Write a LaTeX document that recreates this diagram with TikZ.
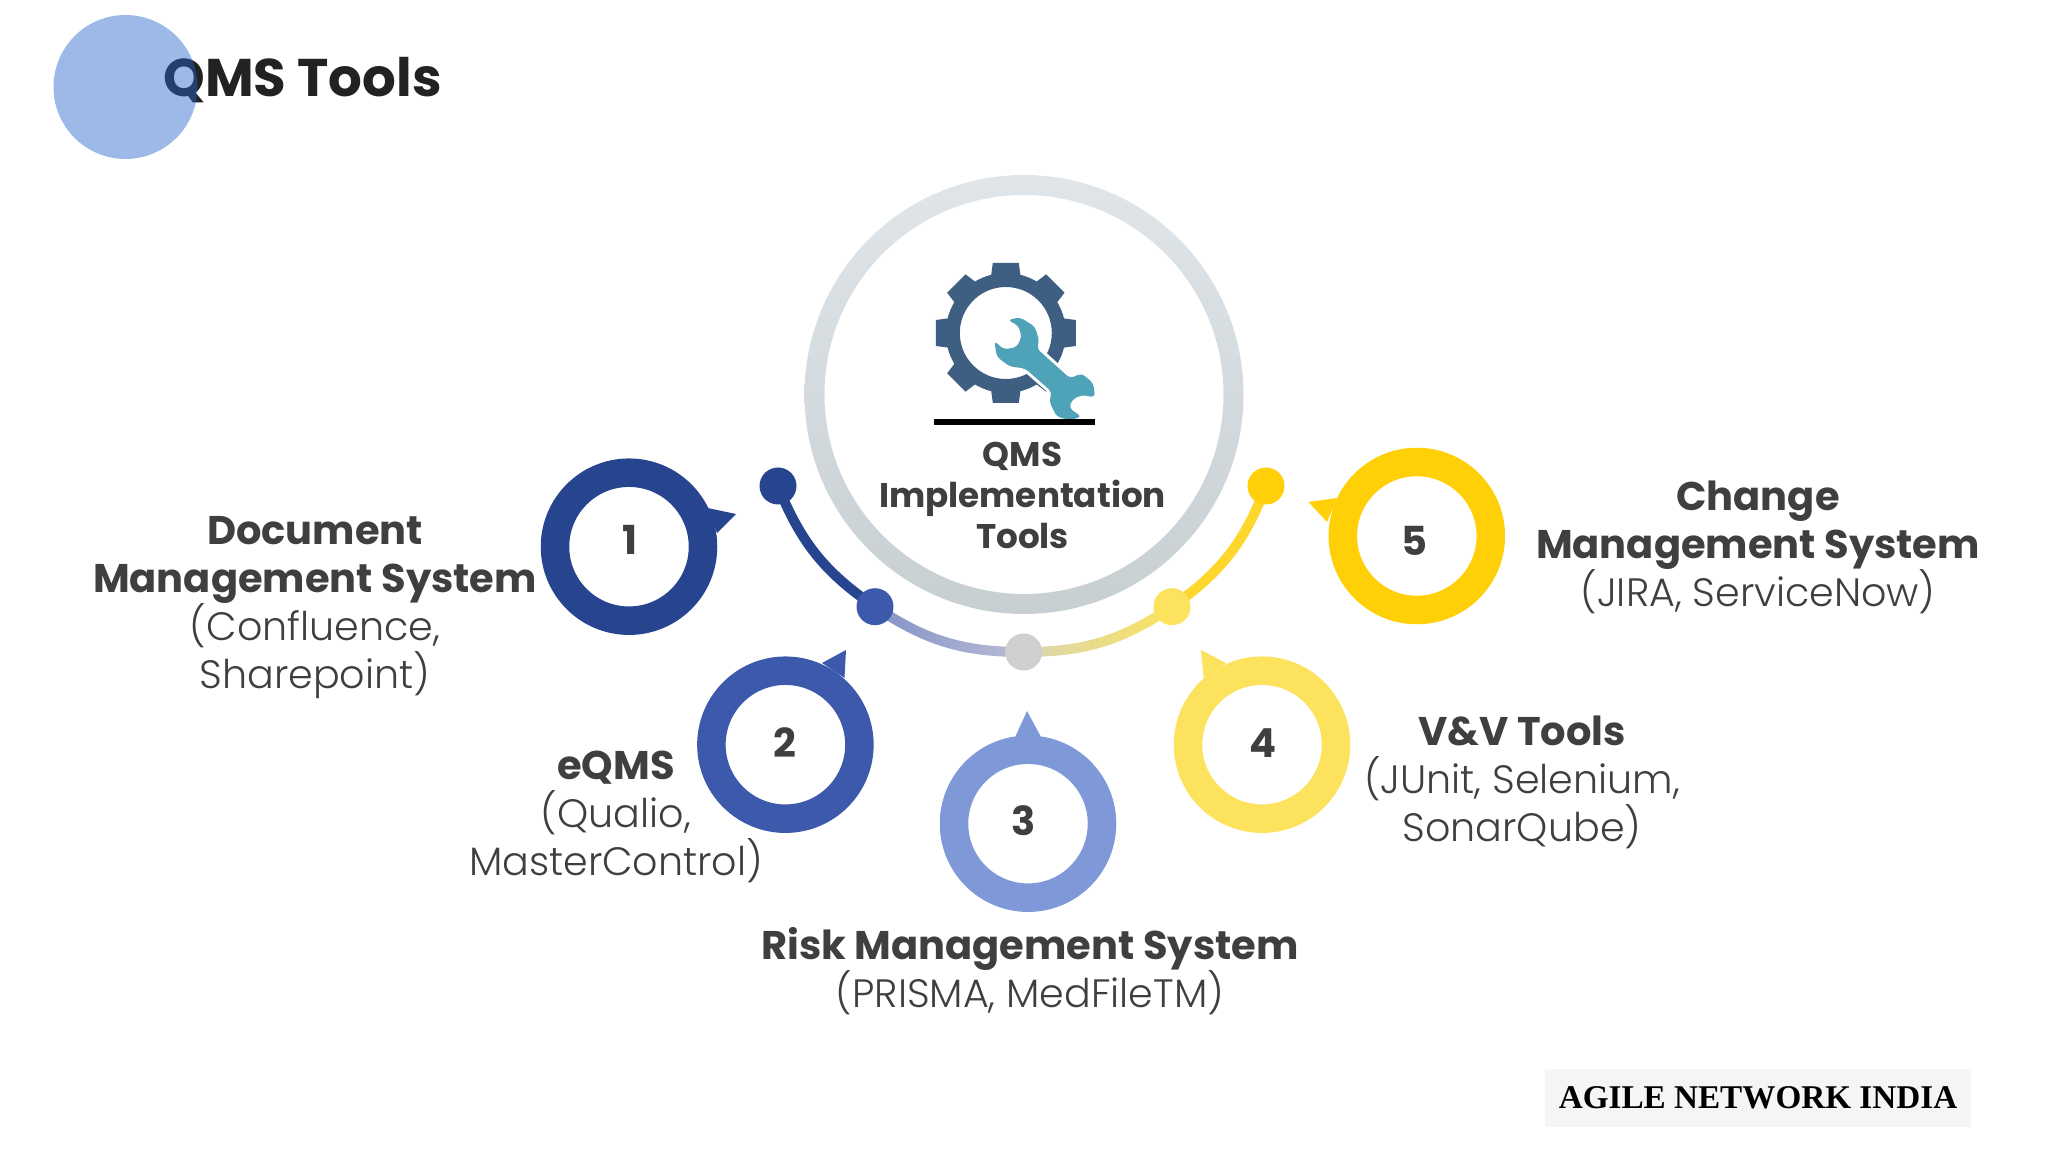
\documentclass[tikz,border=0pt]{standalone}
\usepackage{fontspec}
\setmainfont{Poppins}[UprightFont=* Light,BoldFont=* Bold]
\newfontfamily\markfont{Liberation Serif}
\usetikzlibrary{calc}

\definecolor{titleblue}{HTML}{2563CC}
\definecolor{inkdark}{HTML}{222222}
\definecolor{inkgrey}{HTML}{3F3F3F}
\definecolor{colA}{HTML}{27458F}
\definecolor{colB}{HTML}{3D59AB}
\definecolor{colC}{HTML}{7F99D8}
\definecolor{colD}{HTML}{FDE25E}
\definecolor{colE}{HTML}{FFCF07}
\definecolor{midgrey}{HTML}{D0D0D0}
\definecolor{gearblue}{HTML}{3F5F82}
\definecolor{wrenchteal}{HTML}{4EA3B8}
\definecolor{hubtop}{HTML}{DFE5E8}
\definecolor{hubbot}{HTML}{C8CFD2}

\newcommand{\hd}[1]{{\bfseries\fontsize{20}{24}\selectfont #1}}

\tikzset{
  ring/.style={circle,draw=#1,line width=14.25pt,minimum size=74pt,inner sep=0pt},
  spike/.style={fill=#1},
  knob/.style={circle,fill=#1,minimum size=18.5pt,inner sep=0pt},
  numtxt/.style={inner sep=0pt,text=inkgrey,font=\bfseries\fontsize{20}{24}\selectfont},
  labeltxt/.style={inner sep=0pt,align=center,text=inkgrey,font=\fontsize{19.8}{24}\selectfont},
}

\begin{document}
\begin{tikzpicture}[x=0.5pt,y=0.5pt]
  \useasboundingbox (0,0) rectangle (2048,1152);

  % title, the disc lies over the Q
  \node[anchor=base west,inner sep=0pt,text=inkdark,font=\bfseries\fontsize{26.5}{30}\selectfont]
    (title) at (163,1055) {QMS Tools};
  \node[circle,fill=titleblue,fill opacity=.45,minimum size=72pt,inner sep=0pt] (disc) at (125.5,1065) {};

  % big ring
  \path[even odd rule,top color=hubtop,bottom color=hubbot]
    (1024,757.5) circle (219.5) (1024,757.5) circle (199.5);

  % gear and wrench
  \node[circle,draw=gearblue,line width=7pt,minimum size=53pt,inner sep=0pt] (gear) at (1005.8,819) {};
  \foreach \a in {0,45,...,315}
    \fill[gearblue,shift={(gear)},rotate=\a] (-15,55) -- (-13,70) -- (13,70) -- (15,55) -- cycle;
  \begin{scope}[shift={(780,992)},x=0.16667pt,y=-0.16667pt]
    \fill[wrenchteal,preaction={draw=white,line width=3pt},rounded corners=2pt]
      (683,480) -- (720,472) -- (765,500) -- (778,545) -- (770,565) -- (870,655) -- (905,640)
      -- (940,670) -- (945,712) -- (905,705) -- (875,720) -- (868,745) -- (905,770) -- (870,780)
      -- (830,770) -- (808,725) -- (815,695) -- (735,625) -- (690,620) -- (650,590) -- (643,542)
      -- (670,568) -- (710,562) -- (725,530) -- (715,497) -- cycle;
  \end{scope}
  \fill[black] (934,733) rectangle (1095,727);

  \node[labeltxt,font=\bfseries\fontsize{17.1}{20.5}\selectfont] (hub) at (1022.5,657)
    {QMS\\Implementation\\Tools};

  % arc
  \coordinate (p1) at (778,666);
  \coordinate (p2) at (875,545.3);
  \coordinate (p3) at (1023.6,500);
  \coordinate (p4) at (1172,545.3);
  \coordinate (p5) at (1266,666);

  \draw[colA,line width=5pt] (p1) to[bend right=17] (p2);
  \path[left color=colB!65!white,right color=midgrey!90!blue]
    ($(p2)+(3,4)$) to[bend right=17] ($(p3)+(0,5)$) -- ($(p3)+(0,-5)$) to[bend left=17] ($(p2)+(-3,-4)$) -- cycle;
  \path[left color=midgrey!85!yellow,right color=colD]
    ($(p3)+(0,5)$) to[bend right=17] ($(p4)+(-3,4)$) -- ($(p4)+(3,-4)$) to[bend left=17] ($(p3)+(0,-5)$) -- cycle;
  \draw[colE!85!white,line width=5pt] (p4) to[bend right=17] (p5);

  \node[knob=colA] (d1) at (p1) {};
  \node[knob=colB] (d2) at (p2) {};
  \node[knob=midgrey] (d3) at (p3) {};
  \node[knob=colD] (d4) at (p4) {};
  \node[knob=colE] (d5) at (p5) {};

  % spikes and rings
  \fill[spike=colA] (736,638) -- (707.5,644) -- (717,619) -- cycle;
  \fill[spike=colB] (846,502) -- (822,489) -- (844.5,474) -- cycle;
  \fill[spike=colC] (1027,441) -- (1015.6,416) -- (1040.5,416) -- cycle;
  \fill[spike=colD] (1201,502) -- (1226,489) -- (1203.6,474) -- cycle;
  \fill[spike=colE] (1308.5,650) -- (1337,654) -- (1327,630) -- cycle;

  \node[ring=colA] (r1) at (629,605.3) {};
  \node[ring=colB] (r2) at (785.4,407.3) {};
  \node[ring=colC] (r3) at (1028,328.3) {};
  \node[ring=colD] (r4) at (1262,407.3) {};
  \node[ring=colE] (r5) at (1416.8,616) {};

  \node[numtxt] (n1) at (630,612) {1};
  \node[numtxt] (n2) at (785,409) {2};
  \node[numtxt] (n3) at (1024,331) {3};
  \node[numtxt] (n4) at (1263,409) {4};
  \node[numtxt] (n5) at (1414,611) {5};

  % labels
  \node[labeltxt] (doc) at (315,544) {\hd{Document}\\\hd{Management System}\\(Confluence,\\Sharepoint)};
  \node[labeltxt] (eqms) at (616,335) {\hd{eQMS}\\(Qualio,\\MasterControl)};
  \node[labeltxt] (risk) at (1030,180.5) {\hd{Risk Management System}\\(PRISMA, MedFileTM)};
  \node[labeltxt] (vv) at (1522,370) {\hd{V\&V Tools}\\(JUnit, Selenium,\\SonarQube)};
  \node[labeltxt] (chg) at (1758,605) {\hd{Change}\\\hd{Management System}\\(JIRA, ServiceNow)};

  \node[fill=black!4,minimum width=213pt,minimum height=29pt,inner sep=0pt,text=black,
        font=\markfont\bfseries\fontsize{16.6}{18}\selectfont] (mark) at (1758,54.5) {AGILE NETWORK INDIA};
\end{tikzpicture}
\end{document}
